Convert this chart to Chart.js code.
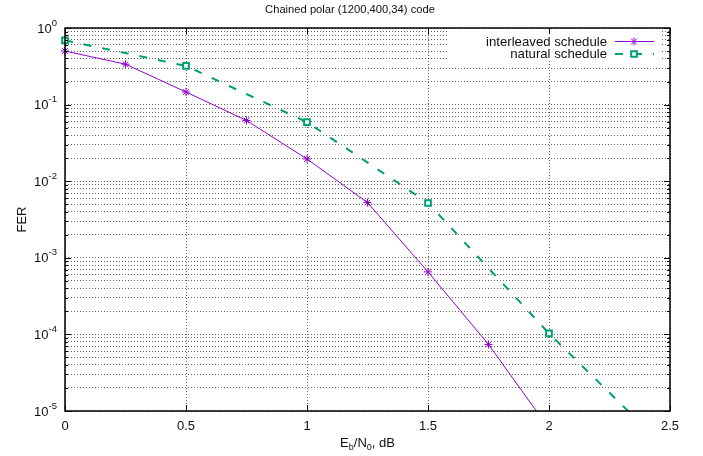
<!DOCTYPE html>
<html lang="en">
<head>
  <meta charset="UTF-8" />
  <title>Chained polar (1200,400,34) code</title>
  <script src="https://cdn.jsdelivr.net/npm/chart.js"></script>
  <style>
    * { margin: 0; padding: 0; box-sizing: border-box; }
    body { background: #fff; width: 703px; height: 456px; overflow: hidden; }
    canvas { display: block; }
  </style>
</head>
<body>
  <canvas id="fer" width="703" height="456"></canvas>

  <script>
    // values
    const chartTitle = 'Chained polar (1200,400,34) code';
    const interleavedX = [0, 0.25, 0.5, 0.75, 1, 1.25, 1.5, 1.75, 2];
    const interleavedFER = [0.50, 0.337, 0.146, 0.062, 0.0195, 0.00526, 0.000655, 0.000074, 0.0000059];
    const naturalX = [0, 0.5, 1, 1.5, 2, 2.5];
    const naturalFER = [0.69, 0.32, 0.059, 0.0052, 0.000103, 0.0000029];
    const xTicks = [0, 0.5, 1, 1.5, 2, 2.5];
    const xTickLabels = ['0', '0.5', '1', '1.5', '2', '2.5'];
    const yDecades = [-5, -4, -3, -2, -1, 0];
    const yMinorSteps = [2, 3, 4, 5, 6, 7, 8, 9];

    const FONT = '"Liberation Sans", Arial, sans-serif';
    const PURPLE = '#9400d3';
    const GREEN = '#009e73';

    const yTickValues = [];
    yDecades.forEach(d => {
      yTickValues.push(Math.pow(10, d));
      if (d < 0) yMinorSteps.forEach(m => yTickValues.push(m * Math.pow(10, d)));
    });

    const toPts = (xs, ys) => xs.map((x, i) => ({ x: x, y: ys[i] }));

    const gnuplotBits = {
      id: 'gnuplotBits',
      afterDatasetsDraw(chart) {
        const ctx = chart.ctx;
        const a = chart.chartArea;
        const xs = chart.scales.x, ys = chart.scales.y;
        ctx.save();

        // legend box hides the grid behind it
        ctx.fillStyle = '#fff';
        ctx.fillRect(447, 30, 214, 30);

        // tick marks on all four borders
        ctx.strokeStyle = '#000';
        ctx.lineWidth = 1;
        ctx.beginPath();
        yTickValues.forEach(v => {
          const y = Math.round(ys.getPixelForValue(v)) + 0.5;
          const major = Math.abs(Math.log10(v) - Math.round(Math.log10(v))) < 1e-9;
          const len = major ? 6 : 3;
          ctx.moveTo(a.left, y); ctx.lineTo(a.left + len, y);
          ctx.moveTo(a.right, y); ctx.lineTo(a.right - len, y);
        });
        xTicks.forEach(v => {
          const x = Math.round(xs.getPixelForValue(v)) + 0.5;
          ctx.moveTo(x, a.bottom); ctx.lineTo(x, a.bottom - 6);
          ctx.moveTo(x, a.top); ctx.lineTo(x, a.top + 6);
        });
        ctx.stroke();

        // border
        ctx.strokeStyle = '#000';
        ctx.lineWidth = 1.5;
        ctx.strokeRect(a.left, a.top, a.right - a.left, a.bottom - a.top);

        ctx.fillStyle = '#111';
        // y tick labels 10^n
        yDecades.forEach(d => {
          const y = ys.getPixelForValue(Math.pow(10, d));
          const exp = String(d);
          ctx.font = '9.5px ' + FONT;
          const ew = ctx.measureText(exp).width;
          ctx.textAlign = 'right';
          ctx.textBaseline = 'middle';
          ctx.fillText(exp, a.left - 8, y - 5);
          ctx.font = '13px ' + FONT;
          ctx.fillText('10', a.left - 8 - ew, y + 1);
        });

        // x tick labels
        ctx.font = '13px ' + FONT;
        ctx.textAlign = 'center';
        ctx.textBaseline = 'middle';
        xTicks.forEach((v, i) => {
          ctx.fillText(xTickLabels[i], xs.getPixelForValue(v), a.bottom + 15);
        });

        // x axis title Eb/N0, dB
        const parts = [['E', 13, 0], ['b', 9, 3], ['/N', 13, 0], ['0', 9, 3], [', dB', 13, 0]];
        let total = 0;
        parts.forEach(p => { ctx.font = p[1] + 'px ' + FONT; total += ctx.measureText(p[0]).width; });
        let cx = (a.left + a.right) / 2 - total / 2;
        ctx.textAlign = 'left';
        ctx.textBaseline = 'alphabetic';
        parts.forEach(p => {
          ctx.font = p[1] + 'px ' + FONT;
          ctx.fillText(p[0], cx, 447 + p[2]);
          cx += ctx.measureText(p[0]).width;
        });

        // y axis title
        ctx.save();
        ctx.translate(22, (a.top + a.bottom) / 2);
        ctx.rotate(-Math.PI / 2);
        ctx.font = '13px ' + FONT;
        ctx.textAlign = 'center';
        ctx.textBaseline = 'middle';
        ctx.fillText('FER', 0, 0);
        ctx.restore();

        // title
        ctx.font = '11.2px ' + FONT;
        ctx.textAlign = 'center';
        ctx.textBaseline = 'middle';
        ctx.fillText(chartTitle, 350, 10);

        // legend
        ctx.font = '13.2px ' + FONT;
        ctx.textAlign = 'right';
        ctx.fillText('interleaved schedule', 607, 42);
        ctx.fillText('natural schedule', 607, 54);

        ctx.strokeStyle = PURPLE;
        ctx.lineWidth = 1;
        ctx.beginPath();
        ctx.moveTo(615, 41.5); ctx.lineTo(654, 41.5);
        ctx.stroke();
        Chart.helpers.drawPoint(ctx, { pointStyle: 'star', radius: 4, borderWidth: 1 }, 634, 41.5);

        ctx.strokeStyle = GREEN;
        ctx.lineWidth = 2;
        ctx.setLineDash([8, 11]);
        ctx.beginPath();
        ctx.moveTo(615, 54); ctx.lineTo(654, 54);
        ctx.stroke();
        ctx.setLineDash([]);
        ctx.fillStyle = '#fff';
        Chart.helpers.drawPoint(ctx, { pointStyle: 'rect', radius: 4, borderWidth: 2 }, 634, 54);

        ctx.restore();
      }
    };

    new Chart(document.getElementById('fer'), {
      type: 'line',
      data: {
        datasets: [
          {
            label: 'interleaved schedule',
            data: toPts(interleavedX, interleavedFER),
            borderColor: PURPLE,
            backgroundColor: PURPLE,
            borderWidth: 1,
            pointStyle: 'star',
            pointRadius: 4,
            pointBorderWidth: 1,
            pointBorderColor: PURPLE,
            tension: 0,
            clip: { left: 10, top: 10, right: 0, bottom: 0 }
          },
          {
            label: 'natural schedule',
            data: toPts(naturalX, naturalFER),
            borderColor: GREEN,
            backgroundColor: '#fff',
            borderWidth: 2,
            borderDash: [8, 11],
            pointStyle: 'rect',
            pointRadius: 4,
            pointBorderWidth: 2,
            pointBorderColor: GREEN,
            tension: 0,
            clip: { left: 10, top: 10, right: 0, bottom: 0 }
          }
        ]
      },
      options: {
        responsive: false,
        animation: false,
        devicePixelRatio: 1,
        layout: { padding: { left: 65, right: 33, top: 28, bottom: 45 } },
        plugins: { legend: { display: false }, title: { display: false }, tooltip: { enabled: false } },
        scales: {
          x: {
            type: 'linear',
            min: 0, max: 2.5,
            afterBuildTicks: s => { s.ticks = xTicks.map(v => ({ value: v })); },
            ticks: { display: false },
            border: { display: false, dash: [1, 2] },
            grid: { color: 'rgba(0,0,0,0.6)', drawTicks: false, lineWidth: 1 }
          },
          y: {
            type: 'logarithmic',
            min: 1e-5, max: 1,
            afterBuildTicks: s => { s.ticks = yTickValues.map(v => ({ value: v })); },
            ticks: { display: false },
            border: { display: false, dash: [1, 2] },
            grid: { color: 'rgba(0,0,0,0.6)', drawTicks: false, lineWidth: 1 }
          }
        }
      },
      plugins: [gnuplotBits]
    });
  </script>
</body>
</html>
